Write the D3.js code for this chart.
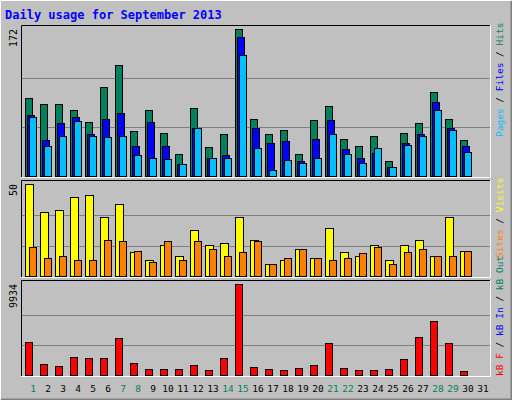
<!DOCTYPE html><html><head><meta charset="utf-8">
<script src="https://d3js.org/d3.v7.min.js"></script>
<style>body{margin:0}svg{display:block}text{font-family:"DejaVu Sans Mono",monospace}</style></head><body>
<script>
const days=d3.range(1,32);
const hits=[92,85,84,78,63,104,130,53,78,51,26,80,34,49,172,67,49,54,26,66,82,44,35,47,18,51,62,99,67,43,0];
const files=[72,42,62,69,49,67,74,36,64,36,14,57,22,25,163,56,39,41,18,44,66,32,21,27,11,39,49,87,57,35,0];
const pages=[69,36,47,65,47,46,47,25,21,20,14,56,21,21,142,33,7,19,16,21,49,26,16,33,11,37,47,78,54,28,0];
const visits=[50,35,36,43,44,32,39,13,9,17,11,25,17,18,32,20,7,9,15,10,26,13,11,17,9,17,20,11,32,14,0];
const sites=[16,10,11,9,9,20,19,14,8,19,9,19,15,11,13,19,7,10,15,10,9,10,12.5,16,7,13,15,11,11,14,0];
const kbytes=[3602,1200,982,1965,1856,1856,4039,1310,655,655,655,1092,546,1856,9934,873,655,546,764,1092,3493,764,546,546,655,1747,4148,5895,3493,437,0];
const weekend=[1,7,8,14,15,21,22,28,29];
const W=512,H=400;
const svg=d3.select("body").append("svg").attr("width",W).attr("height",H);
svg.append("rect").attr("width",W).attr("height",H).attr("fill","#c0c0c0");
svg.append("path").attr("d","M0.5,399.5V0.5H511.5").attr("stroke","#fff").attr("fill","none");
svg.append("path").attr("d","M1,399.5H511.5V1").attr("stroke","#808080").attr("stroke-width",2).attr("fill","none");
svg.append("text").attr("x",5).attr("y",19).attr("fill","#0000ff").attr("font-weight","bold").attr("font-size",12).text("Daily usage for September 2013");
const x=d3.scaleLinear().domain([1,31]).range([25,475]);
const L=21,R=490;
function panel(top,bot,max,label,series,legend,ly){
  svg.append("rect").attr("x",L).attr("y",top).attr("width",R-L).attr("height",bot-top).attr("fill","#c0c0c0");
  const y=d3.scaleLinear().domain([0,max]).range([bot-0.5,top+4]);
  [max/3,2*max/3].forEach(v=>svg.append("line").attr("x1",L).attr("x2",R).attr("y1",Math.round(y(v))+0.5).attr("y2",Math.round(y(v))+0.5).attr("stroke","#808080"));
  series.forEach(s=>{
    svg.selectAll(null).data(s.data.map((v,i)=>({v,d:i+1})).filter(o=>o.v>0)).enter().append("rect")
      .attr("x",o=>x(o.d)+s.off+0.5).attr("width",s.w).attr("y",o=>Math.round(y(o.v))+0.5).attr("height",o=>bot-Math.round(y(o.v))-1)
      .attr("fill",s.color).attr("stroke","#000");
  });
  svg.append("path").attr("d",`M${L+0.5},${bot}V${top+0.5}H${R}`).attr("stroke","#000").attr("fill","none");
  svg.append("path").attr("d",`M${L},${bot+0.5}H${R+0.5}V${top}`).attr("stroke","#fff").attr("fill","none");
  svg.append("text").attr("transform",`translate(17,${top+4}) rotate(-90)`).attr("text-anchor","end").attr("font-size",10).attr("fill","#000").text(label);
  const t=svg.append("text").attr("transform",`translate(503,${ly}) rotate(-90)`).attr("font-size",9.5);
  legend.forEach(l=>t.append("tspan").attr("fill",l[1]).text(l[0]));
}
panel(25,177,172,"172",[{data:hits,color:"#00805c",off:0,w:7},{data:files,color:"#0000ff",off:2,w:7},{data:pages,color:"#00c0ff",off:4,w:7}],
 [["Pages","#00c0ff"],[" / ","#000"],["Files","#0000ff"],[" / ","#000"],["Hits","#00805c"]],137);
panel(180,277,50,"50",[{data:visits,color:"#ffff00",off:0,w:8},{data:sites,color:"#ff8000",off:4,w:7}],
 [["Sites","#ff8000"],[" / ","#000"],["Visits","#ffff00"]],258);
panel(280,376,9934,"9934",[{data:kbytes,color:"#ff0000",off:0,w:7}],
 [["kB F","#ff0000"],[" / ","#000"],["kB In","#0000ff"],[" / ","#000"],["kB Out","#00805c"]],376);
svg.selectAll(null).data(days).enter().append("text").attr("x",d=>x(d)+8).attr("y",392).attr("text-anchor","middle").attr("font-size",9.5)
  .attr("fill",d=>weekend.includes(d)?"#00805c":"#000").text(d=>d);
</script></body></html>
